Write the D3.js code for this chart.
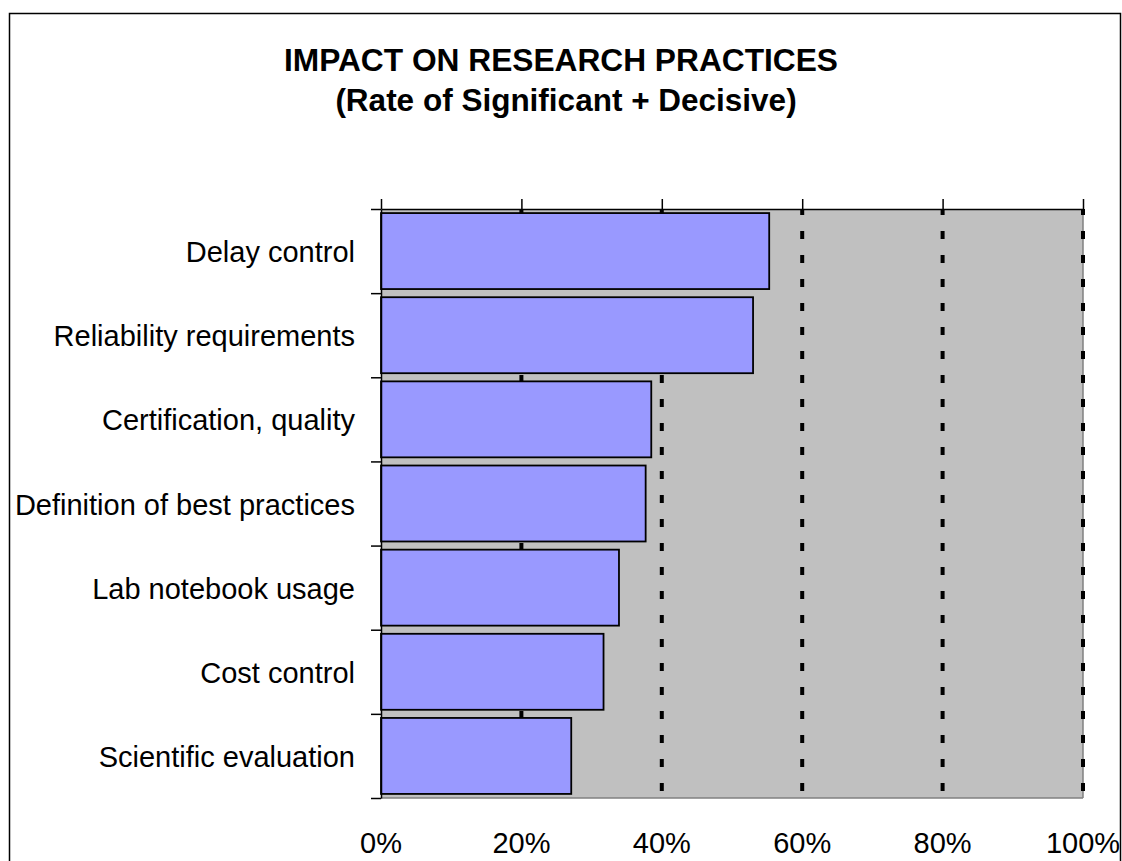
<!DOCTYPE html>
<html>
<head>
<meta charset="utf-8">
<script src="https://cdn.jsdelivr.net/npm/d3@7"></script>
<style>
  html, body { margin: 0; padding: 0; background: #fff; }
  svg { display: block; }
  text { font-family: "Liberation Sans", Arial, sans-serif; fill: #000; }
</style>
</head>
<body>
<script>
const categories = [
  "Delay control",
  "Reliability requirements",
  "Certification, quality",
  "Definition of best practices",
  "Lab notebook usage",
  "Cost control",
  "Scientific evaluation"
];
const values = [0.553, 0.530, 0.385, 0.377, 0.339, 0.317, 0.271];
const tickValues = [0, 0.2, 0.4, 0.6, 0.8, 1.0];
const tickLabels = ["0%", "20%", "40%", "60%", "80%", "100%"];
const titleLines = ["IMPACT ON RESEARCH PRACTICES", "(Rate of Significant + Decisive)"];

const W = 1122, H = 861;
const plot = { left: 381, right: 1083, top: 209, bottom: 798 };

const svg = d3.select("body").append("svg").attr("width", W).attr("height", H);

// outer frame
svg.append("rect")
  .attr("x", 9.5).attr("y", 13.5)
  .attr("width", 1111).attr("height", 900)
  .attr("fill", "#fff").attr("stroke", "#000").attr("stroke-width", 1.5);

// title
svg.append("text").attr("x", 561).attr("y", 71)
  .attr("text-anchor", "middle").attr("font-size", 31.7).attr("font-weight", "bold")
  .text(titleLines[0]);
svg.append("text").attr("x", 566).attr("y", 111)
  .attr("text-anchor", "middle").attr("font-size", 31.5).attr("font-weight", "bold")
  .text(titleLines[1]);

const x = d3.scaleLinear().domain([0, 1]).range([plot.left, plot.right]);
const y = d3.scaleBand().domain(categories).range([plot.top, plot.bottom])
  .paddingInner(0.097).paddingOuter(0.0485);
const yBound = d3.scaleLinear().domain([0, categories.length]).range([plot.top, plot.bottom]);

// plot background
svg.append("rect")
  .attr("x", plot.left).attr("y", plot.top)
  .attr("width", plot.right - plot.left).attr("height", plot.bottom - plot.top)
  .attr("fill", "#C0C0C0");

// border lines (bottom, right gray)
svg.append("line").attr("x1", plot.left).attr("x2", plot.right)
  .attr("y1", plot.bottom).attr("y2", plot.bottom)
  .attr("stroke", "#808080").attr("stroke-width", 1.5);
svg.append("line").attr("x1", plot.right).attr("x2", plot.right)
  .attr("y1", plot.top).attr("y2", plot.bottom)
  .attr("stroke", "#808080").attr("stroke-width", 1.5);

// gridlines
svg.append("g").selectAll("line")
  .data(tickValues.filter(d => d > 0))
  .join("line")
  .attr("x1", d => x(d)).attr("x2", d => x(d))
  .attr("y1", plot.top).attr("y2", plot.bottom)
  .attr("stroke", "#000").attr("stroke-width", 4)
  .attr("stroke-dasharray", "8 16").attr("stroke-dashoffset", 2);

// bars
svg.append("g").selectAll("rect")
  .data(categories)
  .join("rect")
  .attr("x", x(0))
  .attr("y", d => y(d))
  .attr("width", (d, i) => x(values[i]) - x(0))
  .attr("height", y.bandwidth())
  .attr("fill", "#9999FF")
  .attr("stroke", "#000").attr("stroke-width", 1.8);

// top axis (ticks only)
const topAxis = svg.append("g")
  .attr("transform", `translate(0,${plot.top})`)
  .call(d3.axisTop(x).tickValues(tickValues).tickSize(10).tickSizeOuter(0).tickFormat(""));
topAxis.select(".domain").attr("stroke", "#000").attr("stroke-width", 1.5);
topAxis.selectAll(".tick line").attr("stroke", "#000").attr("stroke-width", 1.5);

// left axis (category boundary ticks)
const leftAxis = svg.append("g")
  .attr("transform", `translate(${plot.left},0)`)
  .call(d3.axisLeft(yBound).tickValues(d3.range(categories.length + 1)).tickSize(10).tickSizeOuter(0).tickFormat(""));
leftAxis.select(".domain").attr("stroke", "#000").attr("stroke-width", 1.5);
leftAxis.selectAll(".tick line").attr("stroke", "#000").attr("stroke-width", 1.5);

// category labels
svg.append("g").selectAll("text")
  .data(categories)
  .join("text")
  .attr("x", 355)
  .attr("y", d => y(d) + y.bandwidth() / 2 + 11)
  .attr("text-anchor", "end")
  .attr("font-size", 29)
  .text(d => d);

// bottom tick labels
svg.append("g").selectAll("text")
  .data(tickValues)
  .join("text")
  .attr("x", d => x(d))
  .attr("y", 853)
  .attr("text-anchor", "middle")
  .attr("font-size", 29)
  .text((d, i) => tickLabels[i]);
</script>
</body>
</html>
